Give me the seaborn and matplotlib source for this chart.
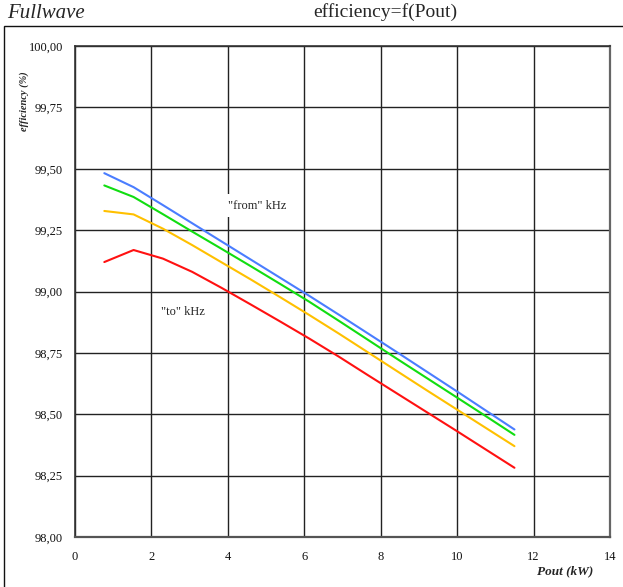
import numpy as np
import pandas as pd
import matplotlib
matplotlib.use("Agg")
import matplotlib.pyplot as plt
from matplotlib.patches import Rectangle
from matplotlib.ticker import FuncFormatter, MultipleLocator
import seaborn as sns

# Output power steps (kW)
pout_kw = [0.767, 1.533, 2.300, 3.067, 3.833, 4.600, 5.367, 6.133,
           6.900, 7.667, 8.433, 9.200, 9.967, 10.733, 11.500]

# Efficiency (%) for each switching-frequency setting
eff_blue = [99.482, 99.425, 99.352, 99.278, 99.204, 99.130, 99.056, 98.982,
            98.906, 98.829, 98.752, 98.674, 98.596, 98.517, 98.438]
eff_green = [99.432, 99.385, 99.315, 99.244, 99.174, 99.103, 99.031, 98.958,
             98.881, 98.803, 98.725, 98.648, 98.571, 98.494, 98.416]
eff_yellow = [99.328, 99.314, 99.256, 99.189, 99.119, 99.049, 98.977, 98.904,
              98.829, 98.752, 98.675, 98.598, 98.522, 98.446, 98.370]
eff_red = [99.120, 99.169, 99.134, 99.080, 99.015, 98.947, 98.878, 98.808,
           98.735, 98.659, 98.584, 98.509, 98.434, 98.358, 98.282]

series_names = ["f1", "f2", "f3", "f4"]
series_colors = ["#4a7dff", "#11dd11", "#ffc000", "#ff1111"]

frames = []
for name, vals in zip(series_names, [eff_blue, eff_green, eff_yellow, eff_red]):
    frames.append(pd.DataFrame({"Pout": pout_kw, "eff": vals, "series": name}))
df = pd.concat(frames, ignore_index=True)

sns.set_theme(style="white")
plt.rcParams["font.family"] = ["Liberation Serif", "DejaVu Serif"]

W, H = 623, 587
fig = plt.figure(figsize=(W / 100, H / 100), dpi=100)
ax = fig.add_axes([75 / W, 1 - 537 / H, (610 - 75) / W, (537 - 46) / H])

sns.lineplot(data=df, x="Pout", y="eff", hue="series",
             palette=dict(zip(series_names, series_colors)),
             linewidth=1.5, ax=ax, legend=False, zorder=3)

ax.set_xlim(0, 14)
ax.set_ylim(98.0, 100.0)
ax.xaxis.set_major_locator(MultipleLocator(2))
ax.yaxis.set_major_locator(MultipleLocator(0.25))
ax.yaxis.set_major_formatter(FuncFormatter(lambda v, p: f"{v:.2f}".replace(".", ",")))
ax.grid(True, color="#222222", linewidth=1.0, zorder=1)
ax.set_axisbelow(True)
for s in ax.spines.values():
    s.set_color("#333333")
    s.set_linewidth(1.2)
ax.spines["right"].set_color("#666666")
ax.spines["right"].set_linewidth(1.6)
ax.spines["bottom"].set_color("#555555")
ax.spines["bottom"].set_linewidth(1.6)
ax.tick_params(axis="both", length=0, labelsize=9, colors="#111111")
ax.tick_params(axis="x", pad=10)
ax.tick_params(axis="y", pad=8.5)
ax.set_xlabel("")
ax.set_ylabel("")

# In-plot annotations
ax.text(4.77, 99.35, '"from" kHz', fontsize=9, ha="center", va="center", zorder=2,
        bbox=dict(facecolor="white", edgecolor="none", pad=4))
ax.text(2.82, 98.916, '"to" kHz', fontsize=9, ha="center", va="center", zorder=2,
        bbox=dict(facecolor="white", edgecolor="none", pad=4))

# Axis titles
fig.text(24 / W, 1 - 101 / H, "efficiency (%)", rotation=90, fontsize=7.5,
         fontweight="bold", fontstyle="italic", ha="center", va="center")
fig.text(593 / W, 1 - 571 / H, "Pout (kW)", fontsize=9.5, fontweight="bold",
         fontstyle="italic", ha="right", va="center")

# Header
fig.text(7 / W, 1 - 13 / H, "Fullwave", fontsize=15, fontstyle="italic",
         ha="left", va="center")
fig.text(385 / W, 1 - 12 / H, "efficiency=f(Pout)", fontsize=14,
         ha="center", va="center")

# Frame around chart area
fig.add_artist(Rectangle((3.5 / W, -0.05), 1.2, 1 - 26 / H + 0.05,
                         transform=fig.transFigure, fill=False,
                         edgecolor="#111111", linewidth=1.0, clip_on=False))

fig.savefig("out.png", dpi=100)
